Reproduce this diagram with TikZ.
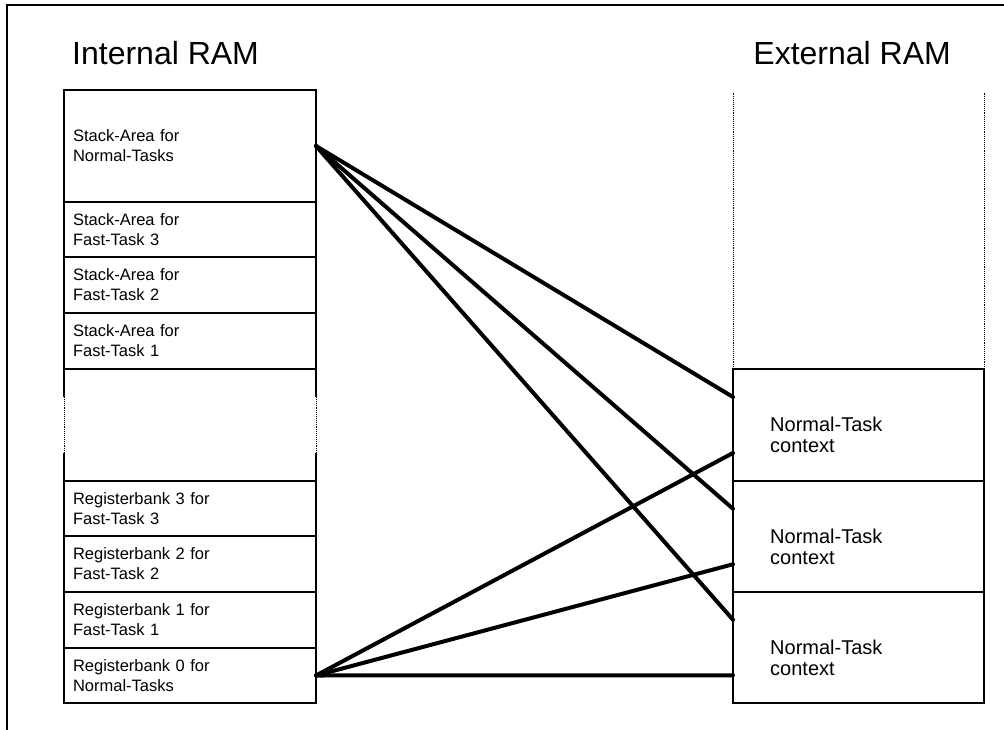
\documentclass[tikz,border=0pt]{standalone}
\usepackage{fontspec}
\setmainfont{Liberation Sans}
\usetikzlibrary{calc}
\begin{document}
\begin{tikzpicture}[x=1pt,y=-1pt,
  cell/.style={draw, line width=1.2pt, rectangle, anchor=north west, outer sep=0pt,
    minimum width=252pt, inner xsep=9pt, inner ysep=0pt, text width=234pt, align=left,
    font=\fontsize{16.5}{20}\selectfont},
  ctxbox/.style={draw, line width=1.2pt, rectangle, anchor=north west, outer sep=0pt,
    minimum width=251pt, minimum height=111pt},
  ctxlabel/.style={anchor=west, inner sep=0pt, align=left,
    font=\fontsize{20}{21}\selectfont},
  link/.style={line width=4pt, line cap=round},
  border/.style={line width=2.4pt},
  side/.style={line width=1.2pt},
  dots/.style={line width=0.9pt, densely dotted},
  head/.style={inner sep=0pt, font=\fontsize{32}{36}\selectfont}]
\useasboundingbox (0,0) rectangle (1004,730);

% outer frame (top and left)
\draw[border] (7,730) -- (7,5) -- (1004,5);

% headings
\node[head, anchor=base west] (hin) at (72,65) {Internal RAM};
\node[head, anchor=base east] (hex) at (951,65) {External RAM};

% internal RAM cells
\node[cell, minimum height=112pt] (n0) at (64,90)  {Stack-Area for\\Normal-Tasks};
\node[cell, minimum height=55pt]  (s3) at (64,202) {Stack-Area for\\Fast-Task 3};
\node[cell, minimum height=56pt]  (s2) at (64,257) {Stack-Area for\\Fast-Task 2};
\node[cell, minimum height=56pt]  (s1) at (64,313) {Stack-Area for\\Fast-Task 1};
\node[cell, minimum height=55pt]  (r3) at (64,481) {Registerbank 3 for\\Fast-Task 3};
\node[cell, minimum height=56pt]  (r2) at (64,536) {Registerbank 2 for\\Fast-Task 2};
\node[cell, minimum height=56pt]  (r1) at (64,592) {Registerbank 1 for\\Fast-Task 1};
\node[cell, minimum height=55pt]  (r0) at (64,648) {Registerbank 0 for\\Normal-Tasks};

% gap between stack areas and register banks
\draw[side] (s1.south west) -- ++(0,28) coordinate (gl1);
\draw[dots] (gl1) -- ++(0,56) coordinate (gl2);
\draw[side] (gl2) -- (r3.north west);
\draw[side] (s1.south east) -- ++(0,28) coordinate (gr1);
\draw[dots] (gr1) -- ++(0,56) coordinate (gr2);
\draw[side] (gr2) -- (r3.north east);

% external RAM
\node[ctxbox, minimum height=112pt] (c1) at (733,369) {};
\node[ctxbox] (c2) at (733,481) {};
\node[ctxbox] (c3) at (733,592) {};
\node[ctxlabel] (l1) at ($(c1.west)+(37,10)$) {Normal-Task\\context};
\node[ctxlabel] (l2) at ($(c2.west)+(37,10)$) {Normal-Task\\context};
\node[ctxlabel] (l3) at ($(c3.west)+(37,10)$) {Normal-Task\\context};
\draw[dots] (c1.north west) -- ++(0,-277);
\draw[dots] (c1.north east) -- ++(0,-277);

% connectors
\draw[link] (n0.east) -- ($(c1.north west)!0.25!(c1.south west)$);
\draw[link] (n0.east) -- ($(c2.north west)!0.25!(c2.south west)$);
\draw[link] (n0.east) -- ($(c3.north west)!0.25!(c3.south west)$);
\draw[link] (r0.east) -- ($(c1.north west)!0.75!(c1.south west)$);
\draw[link] (r0.east) -- ($(c2.north west)!0.75!(c2.south west)$);
\draw[link] (r0.east) -- ($(c3.north west)!0.75!(c3.south west)$);
\end{tikzpicture}
\end{document}
